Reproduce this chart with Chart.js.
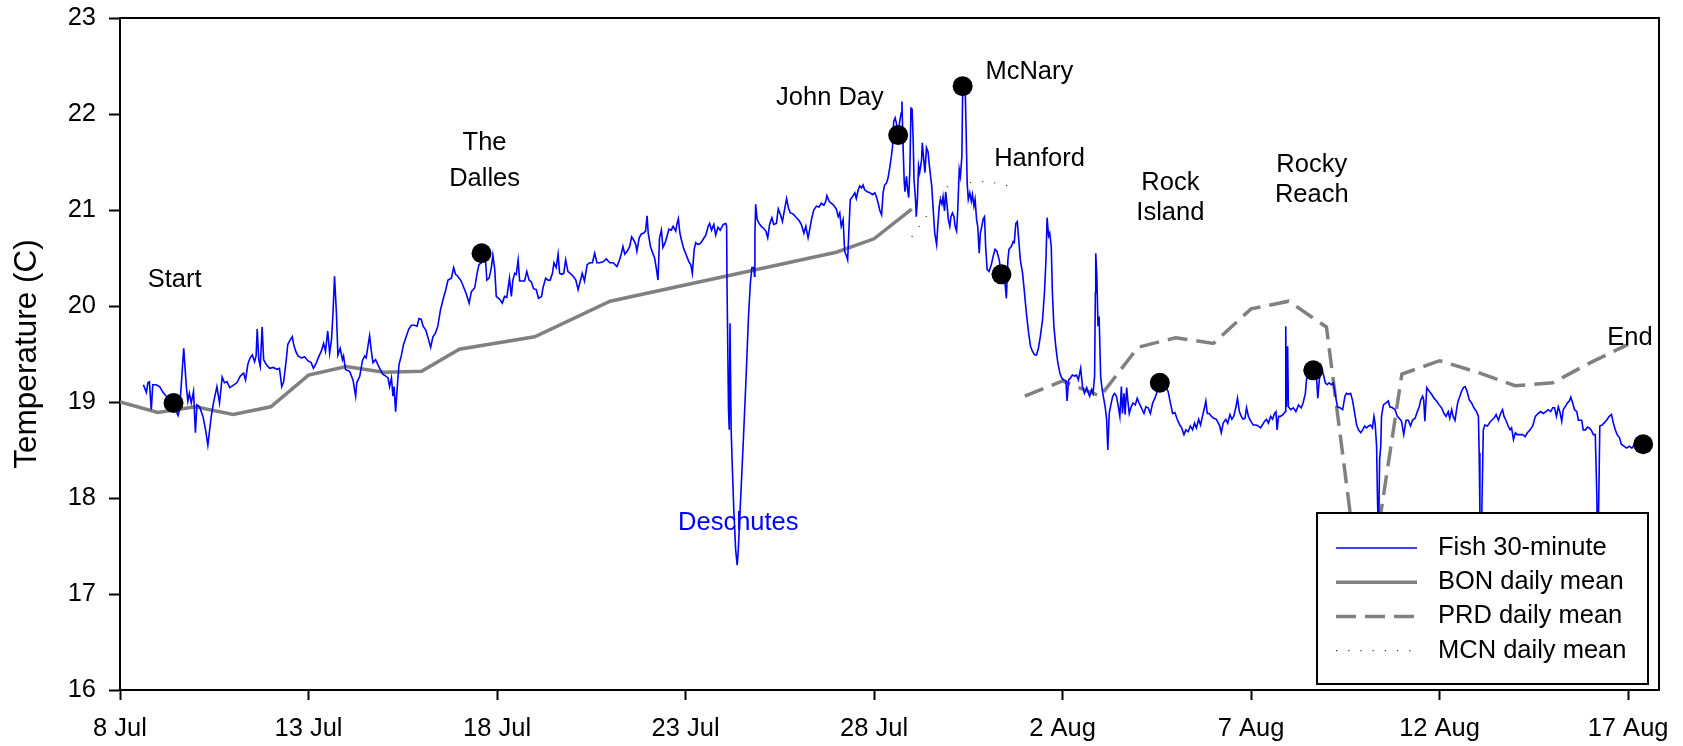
<!DOCTYPE html>
<html>
<head>
<meta charset="utf-8">
<script src="https://cdn.jsdelivr.net/npm/chart.js@4.4.0/dist/chart.umd.min.js"></script>
<style>
  body { margin: 0; background: #fff; }
  canvas { display: block; }
</style>
</head>
<body>
<canvas id="tempChart" width="1683" height="746"></canvas>
<script>
// x values are days after 8 Jul 00:00
const tickDays = [0, 5, 10, 15, 20, 25, 30, 35, 40];
const tickLabels = ['8 Jul', '13 Jul', '18 Jul', '23 Jul', '28 Jul', '2 Aug', '7 Aug', '12 Aug', '17 Aug'];

// fish logger as [day, temp]
const fishSeries = [
  [0.62,19.18],[0.70,19.10],[0.74,19.20],[0.78,19.21],[0.83,18.92],[0.87,19.18],[0.96,19.18],[1.05,19.16],[1.14,19.10],[1.23,19.06],
  [1.40,18.99],[1.54,18.86],[1.58,18.92],[1.69,19.56],[1.76,19.16],[1.80,19.01],[1.84,19.09],[1.89,18.99],[1.95,19.11],[2.00,18.68],
  [2.04,18.97],[2.11,18.95],[2.20,18.85],[2.27,18.71],[2.33,18.55],[2.42,18.85],[2.48,18.99],[2.57,19.16],[2.64,18.99],[2.71,19.26],
  [2.77,19.20],[2.84,19.21],[2.91,19.15],[2.99,19.17],[3.10,19.20],[3.19,19.27],[3.28,19.30],[3.33,19.23],[3.39,19.39],[3.45,19.46],
  [3.51,19.49],[3.57,19.42],[3.61,19.48],[3.64,19.76],[3.68,19.44],[3.72,19.37],[3.77,19.78],[3.81,19.44],[3.88,19.39],[3.97,19.35],
  [4.07,19.36],[4.16,19.34],[4.23,19.35],[4.29,19.16],[4.34,19.21],[4.41,19.44],[4.45,19.60],[4.52,19.65],[4.57,19.68],[4.60,19.61],
  [4.66,19.53],[4.72,19.48],[4.81,19.46],[4.90,19.47],[4.98,19.43],[5.07,19.41],[5.13,19.35],[5.21,19.41],[5.28,19.48],[5.34,19.53],
  [5.40,19.61],[5.45,19.53],[5.51,19.74],[5.56,19.51],[5.61,19.65],[5.65,19.93],[5.69,20.31],[5.74,19.93],[5.78,19.49],[5.84,19.56],
  [5.90,19.44],[5.93,19.48],[5.98,19.34],[6.09,19.32],[6.18,19.23],[6.25,19.06],[6.28,19.20],[6.36,19.27],[6.43,19.43],[6.49,19.48],
  [6.53,19.46],[6.58,19.59],[6.62,19.69],
  [6.66,19.55],[6.71,19.41],[6.78,19.44],[6.84,19.39],[6.90,19.34],[6.97,19.29],[7.05,19.27],[7.11,19.25],[7.15,19.16],[7.20,19.25],
  [7.24,19.06],[7.27,19.16],[7.31,18.90],[7.35,19.13],[7.40,19.39],[7.46,19.48],[7.52,19.60],[7.59,19.68],[7.66,19.76],[7.73,19.80],
  [7.81,19.80],[7.88,19.79],[7.93,19.87],[7.99,19.86],[8.04,19.79],[8.11,19.75],[8.17,19.67],[8.24,19.57],[8.30,19.68],[8.37,19.72],
  [8.43,19.79],[8.50,19.96],[8.57,20.07],[8.64,20.17],[8.70,20.27],[8.79,20.29],[8.85,20.40],[8.90,20.33],[8.96,20.31],[9.05,20.26],
  [9.11,20.20],[9.19,20.12],[9.26,20.03],[9.32,20.15],[9.41,20.19],[9.47,20.34],[9.52,20.43],[9.58,20.45],[9.65,20.48],[9.70,20.45],
  [9.73,20.27],[9.79,20.29],[9.85,20.40],[9.89,20.53],[9.94,20.38],[9.98,20.10],[10.07,20.07],[10.14,20.03],[10.20,20.10],[10.26,20.09],
  [10.33,20.29],[10.38,20.10],[10.42,20.27],[10.47,20.34],[10.51,20.33],[10.56,20.48],[10.60,20.26],[10.67,20.26],[10.73,20.26],[10.79,20.36],
  [10.85,20.27],[10.91,20.25],[10.97,20.18],[11.04,20.17],[11.10,20.08],[11.18,20.10],[11.22,20.19],[11.29,20.29],[11.35,20.27],[11.41,20.27],
  [11.47,20.34],[11.51,20.45],[11.57,20.40],[11.62,20.54],[11.66,20.34],[11.71,20.33],[11.77,20.34],[11.82,20.48],[11.88,20.36],[11.94,20.34],
  [12.02,20.31],[12.09,20.27],[12.15,20.17],[12.21,20.26],[12.26,20.34],[12.32,20.26],[12.39,20.43],[12.46,20.45],[12.53,20.45],[12.59,20.55],
  [12.65,20.45],[12.72,20.45],[12.81,20.46],[12.90,20.49],[12.99,20.45],[13.08,20.45],[13.18,20.41],[13.25,20.48],
  [13.30,20.55],[13.34,20.62],[13.39,20.54],[13.45,20.57],[13.52,20.62],[13.57,20.72],[13.62,20.69],[13.68,20.64],[13.71,20.57],[13.77,20.71],
  [13.83,20.75],[13.89,20.76],[13.94,20.78],[13.98,20.94],[14.01,20.76],[14.07,20.62],[14.14,20.54],[14.18,20.50],[14.23,20.38],[14.27,20.27],
  [14.31,20.71],[14.36,20.79],[14.40,20.61],[14.46,20.66],[14.51,20.73],[14.56,20.80],[14.62,20.79],[14.67,20.83],[14.74,20.78],[14.77,20.85],
  [14.81,20.91],[14.85,20.76],[14.89,20.69],[14.95,20.60],[15.02,20.53],[15.09,20.46],[15.14,20.43],[15.18,20.34],[15.23,20.59],[15.27,20.66],
  [15.33,20.64],[15.39,20.65],[15.46,20.69],[15.54,20.74],[15.60,20.83],[15.64,20.86],[15.69,20.79],[15.75,20.85],[15.80,20.74],[15.86,20.82],
  [15.92,20.79],[16.00,20.85],[16.07,20.86],[16.09,20.83],[16.10,20.24],[16.14,18.92],[16.16,18.71],[16.18,19.82],[16.20,19.82],[16.21,18.71],
  [16.24,18.33],[16.28,17.88],[16.33,17.46],[16.37,17.30],[16.40,17.46],[16.46,17.98],[16.53,18.57],[16.60,19.20],[16.67,19.89],[16.72,20.24],
  [16.76,20.40],[16.81,20.40],[16.83,20.31],[16.84,20.73],[16.86,21.06],[16.90,20.90],[16.95,20.86],[17.01,20.83],[17.07,20.81],[17.13,20.78],
  [17.18,20.71],[17.23,20.85],[17.29,20.92],[17.34,20.85],[17.41,20.86],[17.46,21.01],[17.52,20.95],[17.57,20.88],[17.62,20.99],[17.68,21.12],
  [17.73,21.02],[17.78,20.97],[17.85,20.96],[17.92,20.93],[18.01,20.89],[18.07,20.85],[18.14,20.76],[18.19,20.83],[18.25,20.71],[18.29,20.79],
  [18.34,20.90],[18.40,21.00],[18.47,21.04],[18.54,21.03],[18.60,21.07],[18.67,21.05],[18.72,21.09],[18.75,21.15],[18.81,21.09],[18.87,21.07],
  [18.93,21.05],[19.00,21.01],[19.05,20.93],[19.09,20.97],[19.13,20.83],[19.18,20.90],[19.22,20.57],[19.27,20.52],[19.30,20.48],[19.34,20.85],
  [19.37,21.11],[19.43,21.14],[19.49,21.18],[19.53,21.12],[19.58,21.21],[19.62,21.25],[19.67,21.23],[19.71,21.26],[19.75,21.21],[19.82,21.19],
  [19.89,21.18],
  [19.96,21.16],[20.02,21.18],[20.06,21.14],[20.11,21.07],[20.15,21.00],[20.20,20.95],[20.24,21.18],[20.28,21.26],[20.33,21.28],[20.37,21.33],
  [20.42,21.45],[20.46,21.56],[20.49,21.66],[20.52,21.92],[20.56,21.96],[20.59,21.91],[20.64,21.79],[20.68,21.92],[20.72,22.01],[20.74,22.13],
  [20.77,21.66],[20.80,21.30],[20.82,21.19],[20.86,21.35],[20.89,21.21],[20.92,21.13],[20.95,21.42],[20.98,22.06],[21.01,22.05],[21.04,21.70],
  [21.06,21.32],[21.10,21.11],[21.12,20.93],[21.15,21.11],[21.18,21.46],[21.21,21.39],[21.26,21.52],[21.28,21.70],[21.32,21.52],[21.35,21.39],
  [21.39,21.65],[21.43,21.61],[21.46,21.49],[21.50,21.35],[21.53,21.25],[21.57,21.00],[21.61,20.76],[21.66,20.64],[21.69,20.83],[21.73,21.04],
  [21.76,21.11],[21.80,21.06],[21.83,21.14],[21.87,20.99],[21.90,21.19],[21.94,21.04],[21.97,20.90],[22.01,20.83],[22.04,20.93],[22.08,20.97],
  [22.12,20.93],[22.15,20.83],[22.19,20.78],[22.22,21.00],[22.26,21.42],[22.29,21.35],[22.33,21.56],[22.35,22.22],[22.39,22.29],[22.42,22.22],
  [22.44,21.87],[22.47,21.28],[22.50,21.11],[22.54,21.18],[22.58,21.09],[22.61,21.16],[22.65,21.04],[22.68,21.11],[22.72,20.90],[22.75,20.83],
  [22.79,20.55],[22.82,20.76],[22.86,20.83],[22.89,20.90],[22.93,20.93],[22.96,20.62],[23.00,20.38],[23.05,20.36],[23.11,20.43],[23.16,20.52],
  [23.21,20.59],[23.26,20.57],[23.32,20.48],[23.37,20.34],[23.42,20.24],[23.47,20.26],[23.51,20.08],[23.55,20.48],[23.58,20.59],[23.64,20.62],
  [23.69,20.67],[23.72,20.66],[23.76,20.86],[23.80,20.88],[23.83,20.73],[23.88,20.48],[23.94,20.34],[23.99,20.14],[24.04,19.93],[24.10,19.72],
  [24.15,19.58],[24.20,19.53],[24.26,19.49],[24.31,19.49],[24.36,19.56],[24.41,19.68],[24.47,19.86],[24.52,20.14],[24.56,20.48],[24.59,20.92],
  [24.63,20.73],[24.66,20.76],[24.70,20.62],[24.73,20.14],[24.77,19.79],[24.82,19.58],[24.87,19.42],[24.93,19.30],[24.98,19.25],[25.03,19.23],
  [25.09,19.22],[25.12,19.01],[25.16,19.23],[25.21,19.25],[25.26,19.28],[25.32,19.27],[25.37,19.28],[25.42,19.23],[25.48,19.35],[25.53,19.16],
  [25.58,19.09],[25.64,19.15],[25.69,19.09],[25.72,19.06],[25.77,19.13],[25.81,19.09],[25.85,19.27],[25.87,20.14],[25.88,20.55],[25.91,20.31],
  [25.94,19.79],[25.97,19.89],[26.01,19.27],[26.04,19.16],[26.08,19.06],[26.13,18.95],[26.17,18.82],[26.20,18.50],[26.24,18.89],[26.27,18.95],
  [26.33,19.06],[26.38,19.09],[26.43,19.06],[26.48,18.95],[26.52,18.85],
  [26.56,19.16],[26.59,18.88],[26.63,19.09],[26.66,18.87],[26.70,19.15],[26.73,19.02],[26.77,18.88],[26.82,18.95],[26.87,18.99],[26.93,18.97],
  [26.98,19.04],[27.03,18.99],[27.09,18.94],[27.16,18.88],[27.21,18.95],[27.27,18.94],[27.33,18.88],[27.39,18.99],[27.45,19.04],[27.51,19.11],
  [27.58,19.20],[27.71,19.18],[27.80,19.11],[27.86,18.99],[27.92,18.88],[27.98,18.89],[28.04,18.82],[28.11,18.76],[28.16,18.73],[28.22,18.66],
  [28.27,18.71],[28.33,18.69],[28.39,18.75],[28.45,18.71],[28.50,18.78],[28.55,18.73],[28.61,18.82],[28.66,18.76],[28.71,18.85],[28.77,18.95],
  [28.80,19.01],[28.84,18.88],[28.89,18.88],[28.95,18.85],[29.01,18.83],[29.08,18.82],[29.16,18.76],[29.21,18.68],[29.26,18.78],[29.33,18.82],
  [29.38,18.78],[29.44,18.87],[29.49,18.82],[29.54,18.85],[29.60,18.95],[29.64,19.04],[29.69,18.90],[29.74,18.85],[29.79,18.82],[29.84,18.83],
  [29.88,18.94],[29.93,18.85],[29.99,18.80],[30.06,18.76],[30.13,18.76],[30.19,18.75],[30.25,18.73],[30.30,18.76],[30.36,18.80],[30.41,18.82],
  [30.46,18.78],[30.52,18.85],[30.57,18.82],[30.62,18.88],[30.66,18.90],[30.69,18.71],[30.73,18.85],[30.78,18.85],[30.85,18.87],[30.91,18.90],
  [30.92,19.79],[30.94,18.95],[30.97,19.58],[30.99,18.95],[31.05,18.92],[31.12,18.94],[31.19,18.90],[31.26,18.97],[31.33,18.94],[31.38,18.99],
  [31.44,19.09],[31.47,19.23],[31.53,19.30],[31.58,19.27],[31.65,19.34],[31.74,19.23],[31.77,19.04],[31.81,19.23],[31.86,19.37],[31.91,19.30],
  [31.97,19.20],[32.02,19.18],[32.07,19.20],[32.13,19.18],[32.18,19.20],[32.23,19.09],[32.29,18.95],[32.36,18.94],[32.43,18.92],[32.49,19.06],
  [32.53,19.09],[32.59,19.08],[32.64,19.09],[32.69,19.02],[32.75,18.88],[32.80,18.76],[32.85,18.71],[32.91,18.68],[32.96,18.71],[33.01,18.75],
  [33.06,18.73],[33.12,18.75],[33.17,18.76],[33.22,18.73],[33.26,18.85],[33.29,18.78],[33.33,18.54],[33.35,18.05],[33.38,17.55],[33.41,18.40],
  [33.44,18.54],[33.46,18.85],[33.51,18.97],[33.58,18.99],[33.64,19.01],[33.68,18.95],[33.75,18.94],[33.82,18.92],[33.88,18.85],[33.93,18.83],
  [33.99,18.80],[34.05,18.66],[34.11,18.81],[34.17,18.81],[34.23,18.75],[34.28,18.81],[34.35,18.83],[34.41,18.90],[34.46,18.95],[34.50,19.02],
  [34.55,19.06],[34.58,19.02],[34.61,18.80],[34.66,19.15],[34.73,19.11],[34.79,19.08],[34.85,19.04],[34.92,19.01],[34.99,18.97],[35.05,18.94],
  [35.12,18.88],[35.17,18.85],[35.23,18.90],[35.27,18.83],[35.32,18.92],[35.36,18.85],[35.41,18.81],[35.47,18.97],[35.50,19.02],[35.54,19.06],
  [35.58,19.11],[35.63,19.15],[35.68,19.16],[35.73,19.11],[35.79,19.02],[35.85,18.99],[35.91,18.94],[35.98,18.90],[36.03,18.85],[36.05,18.47],
  [36.07,17.84],[36.10,17.55],[36.12,17.84],[36.16,18.71],[36.20,18.76],[36.27,18.75],[36.32,18.78],[36.38,18.81],[36.44,18.83],[36.50,18.87],
  [36.56,18.81],[36.62,18.88],[36.67,18.92],[36.71,18.85],[36.76,18.81],[36.82,18.75],[36.87,18.71],[36.91,18.73],[36.96,18.61],[37.01,18.68],
  [37.06,18.66],[37.13,18.66],[37.20,18.66],[37.27,18.64],[37.33,18.68],[37.40,18.71],[37.47,18.75],[37.54,18.85],[37.61,18.88],[37.68,18.90],
  [37.75,18.88],[37.82,18.90],[37.88,18.92],[37.95,18.90],[38.00,18.94],[38.05,18.94],[38.10,18.85],[38.15,18.95],[38.19,18.90],[38.24,18.80],
  [38.28,18.92],[38.33,18.95],[38.39,18.99],[38.44,19.01],[38.48,19.05],[38.53,18.99],[38.58,18.92],[38.64,18.90],[38.68,18.81],[38.72,18.81],
  [38.77,18.81],[38.81,18.71],[38.87,18.71],[38.92,18.74],[38.97,18.73],[39.02,18.71],[39.08,18.66],[39.13,18.66],[39.17,18.05],[39.19,17.55],
  [39.22,17.91],[39.25,18.75],[39.31,18.76],[39.36,18.78],[39.43,18.81],[39.50,18.85],[39.56,18.87],[39.61,18.78],[39.66,18.71],[39.71,18.66],
  [39.77,18.63],[39.82,18.56],[39.89,18.54],[39.96,18.52],[40.03,18.54],[40.10,18.52],[40.18,18.56]
];

const bonDays  = [0, 1, 2, 3, 4, 5, 6, 7, 8, 9, 11, 13, 19, 20, 21];
const bonTemps = [19.00, 18.89, 18.95, 18.87, 18.95, 19.28, 19.37, 19.31, 19.32, 19.55, 19.68, 20.05, 20.56, 20.70, 21.01];

const prdDays  = [24, 25, 26, 27, 28, 29, 30, 31, 32, 33, 34, 35, 36, 37, 38, 39, 40];
const prdTemps = [19.06, 19.22, 19.06, 19.57, 19.67, 19.61, 19.97, 20.05, 19.78, 16.70, 19.29, 19.43, 19.31, 19.17, 19.20, 19.41, 19.60];

const mcnDays  = [21.0, 22.0, 23.0, 23.7];
const mcnTemps = [20.72, 21.27, 21.30, 21.24];

// passage points (dams)
const siteDays  = [1.42, 9.59, 20.64, 22.35, 23.38, 27.58, 31.65, 40.40];
const siteTemps = [18.99, 20.55, 21.78, 22.29, 20.33, 19.20, 19.33, 18.56];

// text notes, anchored in data units
const notes = [
  { text: 'Start', x: 1.45, y: 20.27 },
  { text: 'The', x: 9.67, y: 21.70 },
  { text: 'Dalles', x: 9.67, y: 21.32 },
  { text: 'John Day', x: 18.83, y: 22.17 },
  { text: 'McNary', x: 24.12, y: 22.44 },
  { text: 'Hanford', x: 24.39, y: 21.53 },
  { text: 'Rock', x: 27.86, y: 21.28 },
  { text: 'Island', x: 27.86, y: 20.97 },
  { text: 'Rocky', x: 31.61, y: 21.47 },
  { text: 'Reach', x: 31.61, y: 21.16 },
  { text: 'End', x: 40.05, y: 19.67 },
  { text: 'Deschutes', x: 16.40, y: 17.74, color: '#0000ff' }
];

const FONT_FAMILY = '"Liberation Sans", Arial, sans-serif';
const FONT_SIZE = 25.5;

function toPoints(xs, ys) {
  return xs.map((x, i) => ({ x: x, y: ys[i] }));
}

// top and right edges of the box
const frame = {
  id: 'frame',
  afterDatasetsDraw(chart) {
    const { ctx, chartArea: a } = chart;
    ctx.save();
    ctx.strokeStyle = '#000';
    ctx.lineWidth = 2;
    ctx.beginPath();
    ctx.moveTo(a.left, a.top);
    ctx.lineTo(a.right, a.top);
    ctx.lineTo(a.right, a.bottom);
    ctx.stroke();
    ctx.restore();
  }
};

const siteNotes = {
  id: 'siteNotes',
  afterDatasetsDraw(chart) {
    const { ctx, scales: { x, y } } = chart;
    ctx.save();
    ctx.font = FONT_SIZE + 'px ' + FONT_FAMILY;
    ctx.textAlign = 'center';
    ctx.textBaseline = 'middle';
    notes.forEach(n => {
      ctx.fillStyle = n.color || '#000';
      ctx.fillText(n.text, x.getPixelForValue(n.x), y.getPixelForValue(n.y));
    });
    ctx.restore();
  }
};

// legend box sitting inside the lower right corner
const boxLegend = {
  id: 'boxLegend',
  afterDatasetsDraw(chart) {
    const { ctx, chartArea: a } = chart;
    const w = 331, h = 171;
    const x0 = a.right - 11 - w, y0 = a.bottom - 6 - h;
    ctx.save();
    ctx.fillStyle = '#fff';
    ctx.fillRect(x0, y0, w, h);
    ctx.strokeStyle = '#000';
    ctx.lineWidth = 2;
    ctx.strokeRect(x0, y0, w, h);
    ctx.font = FONT_SIZE + 'px ' + FONT_FAMILY;
    ctx.textBaseline = 'middle';
    chart.data.datasets.filter(d => d.inLegend).forEach((ds, i) => {
      const yy = y0 + 35 + i * 34.2;
      ctx.beginPath();
      ctx.setLineDash(ds.borderDash || []);
      ctx.strokeStyle = ds.borderColor;
      ctx.lineWidth = ds.borderWidth;
      ctx.moveTo(x0 + 19, yy);
      ctx.lineTo(x0 + 100, yy);
      ctx.stroke();
      ctx.setLineDash([]);
      ctx.fillStyle = '#000';
      ctx.fillText(ds.label, x0 + 121, yy);
    });
    ctx.restore();
  }
};

const yTitle = {
  id: 'yTitle',
  afterDraw(chart) {
    const { ctx, chartArea: a } = chart;
    ctx.save();
    ctx.translate(36, (a.top + a.bottom) / 2);
    ctx.rotate(-Math.PI / 2);
    ctx.font = '31.5px ' + FONT_FAMILY;
    ctx.fillStyle = '#000';
    ctx.textAlign = 'center';
    ctx.textBaseline = 'alphabetic';
    ctx.fillText('Temperature (C)', 0, 0);
    ctx.restore();
  }
};

new Chart(document.getElementById('tempChart'), {
  type: 'line',
  data: {
    datasets: [
      {
        label: 'sites',
        data: toPoints(siteDays, siteTemps),
        showLine: false,
        pointRadius: 10,
        pointBackgroundColor: '#000',
        pointBorderWidth: 0
      },
      {
        label: 'Fish 30-minute',
        inLegend: true,
        data: fishSeries.map(p => ({ x: p[0], y: p[1] })),
        borderColor: '#0000ff',
        borderWidth: 1.6,
        pointRadius: 0
      },
      {
        label: 'BON daily mean',
        inLegend: true,
        data: toPoints(bonDays, bonTemps),
        borderColor: '#808080',
        borderWidth: 3.5,
        pointRadius: 0
      },
      {
        label: 'PRD daily mean',
        inLegend: true,
        data: toPoints(prdDays, prdTemps),
        borderColor: '#808080',
        borderWidth: 3.5,
        borderDash: [20, 9],
        pointRadius: 0
      },
      {
        label: 'MCN daily mean',
        inLegend: true,
        data: toPoints(mcnDays, mcnTemps),
        borderColor: '#333',
        borderWidth: 1.2,
        borderDash: [1.2, 11],
        pointRadius: 0
      }
    ]
  },
  options: {
    responsive: false,
    animation: false,
    events: [],
    layout: { padding: { top: 18, right: 24, left: 0, bottom: 0 } },
    plugins: {
      legend: { display: false },
      tooltip: { enabled: false }
    },
    scales: {
      x: {
        type: 'linear',
        min: 0,
        max: 40.82,
        afterFit: s => { s.height = 56; },
        afterBuildTicks: s => { s.ticks = tickDays.map(v => ({ value: v })); },
        grid: { drawOnChartArea: false, tickLength: 10, tickWidth: 2, tickColor: '#000' },
        border: { color: '#000', width: 2 },
        ticks: {
          autoSkip: false,
          maxRotation: 0,
          padding: 14,
          color: '#000',
          font: { family: FONT_FAMILY, size: FONT_SIZE },
          callback: (v, i) => tickLabels[i]
        }
      },
      y: {
        min: 16,
        max: 23,
        // keep the label padding from pushing the plot top down
        afterFit: s => { s.width = 120; s.paddingTop = 0; s.paddingBottom = 0; },
        grid: { drawOnChartArea: false, tickLength: 11, tickWidth: 2, tickColor: '#000' },
        border: { color: '#000', width: 2 },
        ticks: {
          stepSize: 1,
          padding: 13,
          color: '#000',
          font: { family: FONT_FAMILY, size: FONT_SIZE }
        }
      }
    }
  },
  plugins: [frame, boxLegend, siteNotes, yTitle]
});
</script>
</body>
</html>
